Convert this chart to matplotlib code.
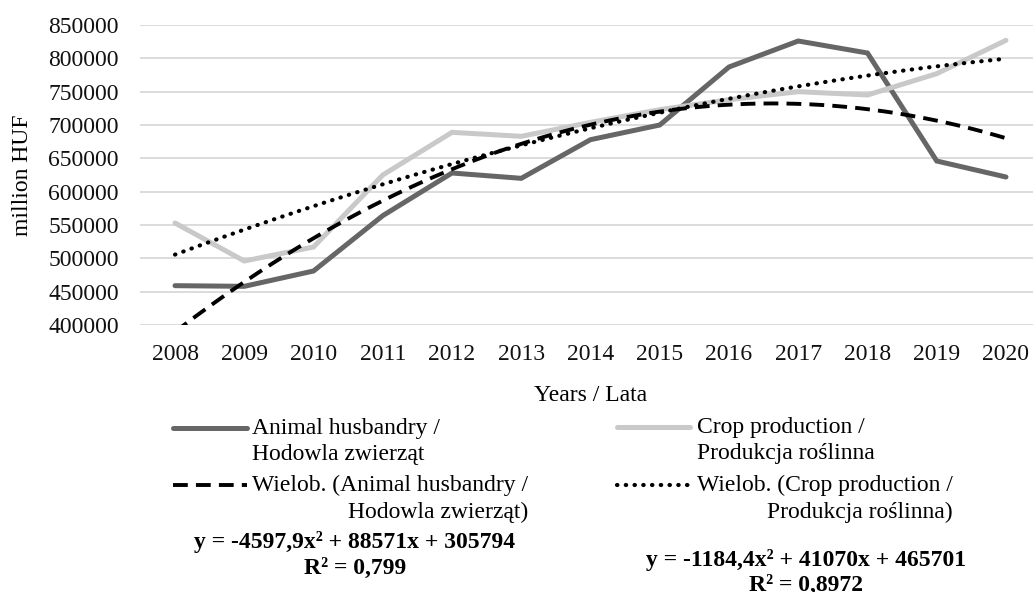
import numpy as np
import matplotlib
matplotlib.use("Agg")
import matplotlib.pyplot as plt
from matplotlib.lines import Line2D

plt.rcParams['font.family'] = ['Liberation Serif', 'DejaVu Serif']

years = ['2008', '2009', '2010', '2011', '2012', '2013', '2014',
         '2015', '2016', '2017', '2018', '2019', '2020']
animal = [459000, 458000, 481000, 564000, 628000, 620000, 678000,
          700000, 787000, 826000, 808000, 646000, 622000]
crop = [553000, 496000, 517000, 625000, 689000, 683000, 704000,
        723000, 738000, 750000, 745000, 777000, 827000]

# trendline coefficients as printed on the chart (x = 1..13)
animal_coef = [-4597.9, 88571, 305794]
crop_coef = [-1184.4, 41070, 465701]
animal_eq = 'y = -4597,9x² + 88571x + 305794\nR² = 0,799'
crop_eq = 'y = -1184,4x² + 41070x + 465701\nR² = 0,8972'

labels = ['Animal husbandry /\nHodowla zwierząt',
          'Wielob. (Animal husbandry /\nHodowla zwierząt)',
          'Crop production /\nProdukcja roślinna',
          'Wielob. (Crop production /\nProdukcja roślinna)']

DARK, LIGHT = '#666666', '#c9c9c9'
FS = 17

W, H = 1033, 592
fig = plt.figure(figsize=(W / 100, H / 100), dpi=100)
left, right, top, bottom = 140.4, 1040.6, 25, 325
ax = fig.add_axes([left / W, 1 - bottom / H, (right - left) / W, (bottom - top) / H])

x = np.arange(len(years))
xs = np.linspace(0, len(years) - 1, 200)

styles = [
    dict(color=DARK, lw=3.6, solid_joinstyle='miter', solid_capstyle='round'),
    dict(color='black', lw=2.8, linestyle=(0, (3.8, 2.1))),
    dict(color=LIGHT, lw=3.6, solid_joinstyle='miter', solid_capstyle='round'),
    dict(color='black', lw=3.0, linestyle=(0, (0.1, 2.0)), dash_capstyle='round'),
]

ax.plot(x, animal, zorder=3, **styles[0])
ax.plot(x, crop, zorder=3, **styles[2])
ax.plot(xs, np.polyval(animal_coef, xs + 1), zorder=4, **styles[1])
ax.plot(xs, np.polyval(crop_coef, xs + 1), zorder=4, **styles[3])

ax.set_xlim(-0.5, len(years) - 0.5)
ax.set_ylim(400000, 850000)
ax.set_yticks(np.arange(400000, 850001, 50000))
ax.set_yticklabels([str(v) for v in range(400000, 850001, 50000)])
ax.set_xticks(x)
ax.set_xticklabels(years)
ax.tick_params(length=0, labelsize=FS, colors='#111111')
ax.tick_params(axis='y', pad=15.5)
ax.tick_params(axis='x', pad=14)
ax.grid(axis='y', color='#d9d9d9', lw=1.3)
ax.set_axisbelow(True)
for s in ax.spines.values():
    s.set_visible(False)

ax.set_xlabel('Years / Lata', fontsize=FS, labelpad=14)
fig.text(23 / W, 1 - 175 / H, 'million HUF', rotation=90, fontsize=FS,
         ha='center', va='center')

# legend drawn by hand: handle sits on the first line of each entry
handle_x = [(173, 247), (173, 247), (617, 690), (617, 690)]
text_x = [252, 252, 697, 697]
first_y = [428, 485, 427, 485]
for st, lab, (hx0, hx1), tx, fy in zip(styles, labels, handle_x, text_x, first_y):
    fig.add_artist(Line2D([hx0 / W, hx1 / W], [1 - fy / H, 1 - fy / H],
                          transform=fig.transFigure, **st))
    fig.text(tx / W, 1 - (fy + 13.5) / H, lab, fontsize=FS, ha='left', va='center',
             linespacing=1.35,
             multialignment='right' if lab.startswith('Wielob') else 'left')

fig.text(355 / W, 1 - 555 / H, animal_eq, fontsize=FS, fontweight='bold',
         ha='center', va='center', linespacing=1.3)
fig.text(806 / W, 1 - 572.5 / H, crop_eq, fontsize=FS, fontweight='bold',
         ha='center', va='center', linespacing=1.3)

fig.savefig('out.png', dpi=100)
